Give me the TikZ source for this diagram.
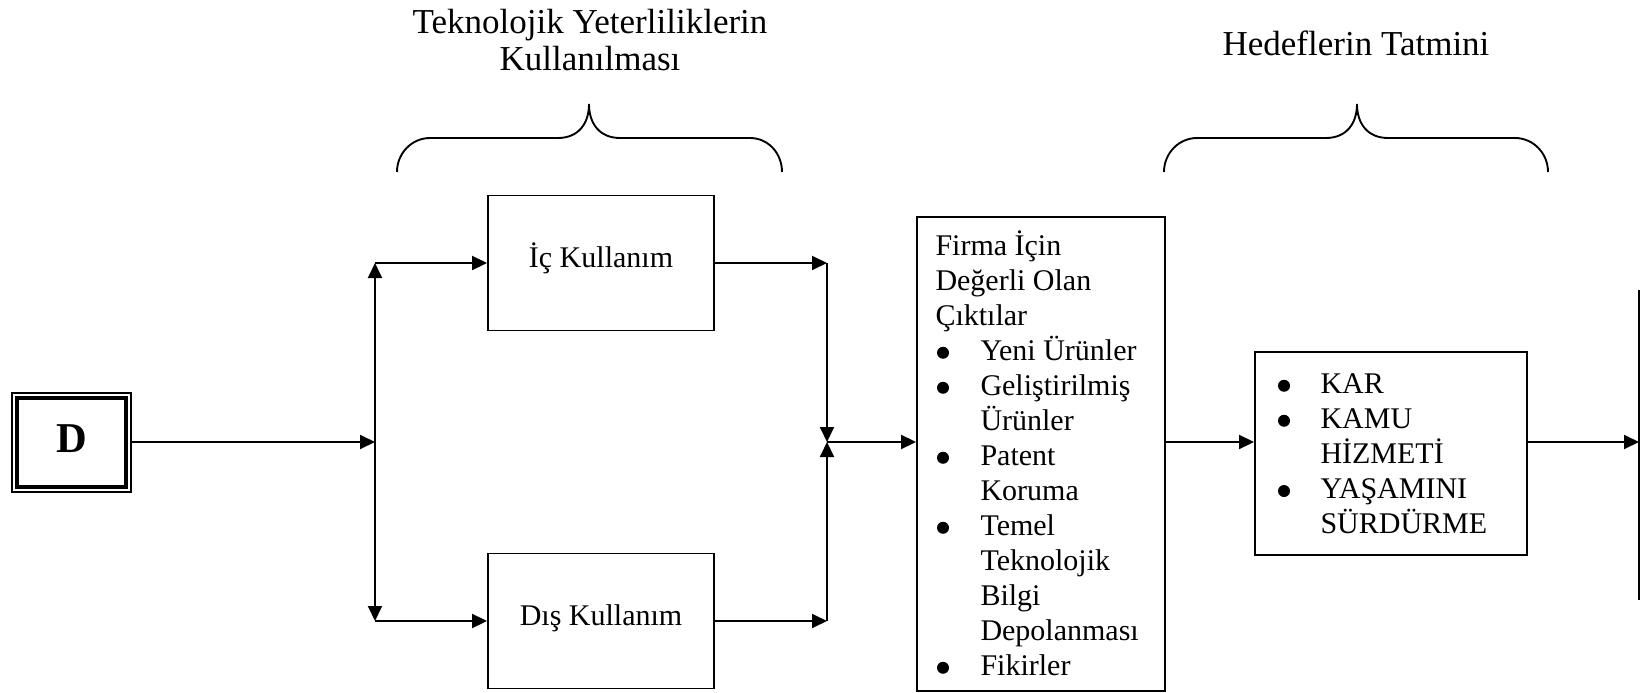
\documentclass[tikz,border=0pt]{standalone}
\usepackage{fontspec}
\setmainfont{Liberation Serif}
\usetikzlibrary{arrows.meta}
% filled list bullet, sized like a word-processor bullet
\newcommand\bul{\hspace{0.6pt}\tikz[baseline=0pt]\fill (0pt,2.9pt) circle (2.4pt);}
\begin{document}
\begin{tikzpicture}[x=0.4pt,y=-0.4pt,
  every node/.style={inner sep=0pt, font=\fontsize{12}{14}\selectfont},
  box/.style={draw, line width=0.75pt, text height=7.2pt, text depth=3.8pt},
  wire/.style={line width=0.75pt},
  tip/.tip={Triangle[length=6pt,width=5.6pt]},
  arr/.style={wire, -tip},
  brace/.style={line width=0.75pt},
  title/.style={font=\fontsize{14}{14.8}\selectfont, anchor=base},
  ]
\useasboundingbox (0,0) rectangle (1648,693);

% headings
\node[title] (t1) at (590,33) {\begin{tabular}[t]{@{}c@{}}Teknolojik Yeterliliklerin\\Kullanılması\end{tabular}};
\node[title] (t2) at (1356,55) {Hedeflerin Tatmini};

% braces under the headings
\draw[brace] (397,172) .. controls (397,153) and (412,138) .. (430,138) -- (558,138)
  .. controls (578,138) and (589,124) .. (589,104)
  .. controls (589,124) and (600,138) .. (620,138) -- (750,138)
  .. controls (768,138) and (782,153) .. (782,172);
\draw[brace] (1164,172) .. controls (1164,153) and (1179,138) .. (1197,138) -- (1326,138)
  .. controls (1346,138) and (1357,124) .. (1357,104)
  .. controls (1357,124) and (1368,138) .. (1388,138) -- (1515,138)
  .. controls (1533,138) and (1548,153) .. (1548,172);

% start box with double frame
\node[draw, line width=0.75pt, minimum width=47.6pt, minimum height=39.6pt,
      font=\fontsize{17}{20}\selectfont\bfseries, text height=11.2pt, text depth=3.2pt]
      (D) at (71.5,442.5) {D};
\draw[line width=1.3pt] ([shift={(2.4pt,-2.4pt)}]D.north west) rectangle ([shift={(-2.4pt,2.4pt)}]D.south east);

% usage boxes
\node[box, minimum width=90.4pt, minimum height=54pt] (Ic) at (601,263) {İç Kullanım};
\node[box, minimum width=90.4pt, minimum height=54pt] (Dis) at (601,621) {Dış Kullanım};

% outputs box
\node[draw, line width=0.75pt, minimum width=99.2pt, minimum height=189.6pt] (F) at (1041,454) {};
\node[anchor=base west] (Ft) at (935,255) {\begin{tabular}[t]{@{}p{18pt}@{}l@{}}
\multicolumn{2}{@{}l@{}}{Firma İçin}\\
\multicolumn{2}{@{}l@{}}{Değerli Olan}\\
\multicolumn{2}{@{}l@{}}{Çıktılar}\\
\bul & Yeni Ürünler\\
\bul & Geliştirilmiş\\
 & Ürünler\\
\bul & Patent\\
 & Koruma\\
\bul & Temel\\
 & Teknolojik\\
 & Bilgi\\
 & Depolanması\\
\bul & Fikirler
\end{tabular}};

% goals box
\node[draw, line width=0.75pt, minimum width=108.8pt, minimum height=81.2pt] (K) at (1391,453.5) {};
\node[anchor=base west] (Kt) at (1276,393) {\begin{tabular}[t]{@{}p{17.6pt}@{}l@{}}
\bul & KAR\\
\bul & KAMU\\
 & HİZMETİ\\
\bul & YAŞAMINI\\
 & SÜRDÜRME
\end{tabular}};

% junction points
\coordinate (a)  at (375,442);
\coordinate (aT) at (375,263);
\coordinate (aB) at (375,621);
\coordinate (b)  at (827,442);
\coordinate (bT) at (827,263);
\coordinate (bB) at (827,621);
\coordinate (e)  at (1639,442);
\coordinate (eT) at (1639,290);
\coordinate (eB) at (1639,600);

% connectors
\draw[arr] (D.east |- a) -- (a);
\draw[wire, tip-tip] (aT) -- (aB);
\draw[arr] (aT) -- (Ic);
\draw[arr] (aB) -- (Dis);
\draw[arr] (Ic) -- (bT);
\draw[arr] (Dis) -- (bB);
\draw[arr] (bT) -- (b);
\draw[arr] (bB) -- (b);
\draw[arr] (b) -- (b -| F.west);
\draw[arr] (F.east |- b) -- (K.west |- b);
\draw[arr] (K.east |- b) -- (e);
\draw[wire] (eT) -- (eB);
\end{tikzpicture}
\end{document}
